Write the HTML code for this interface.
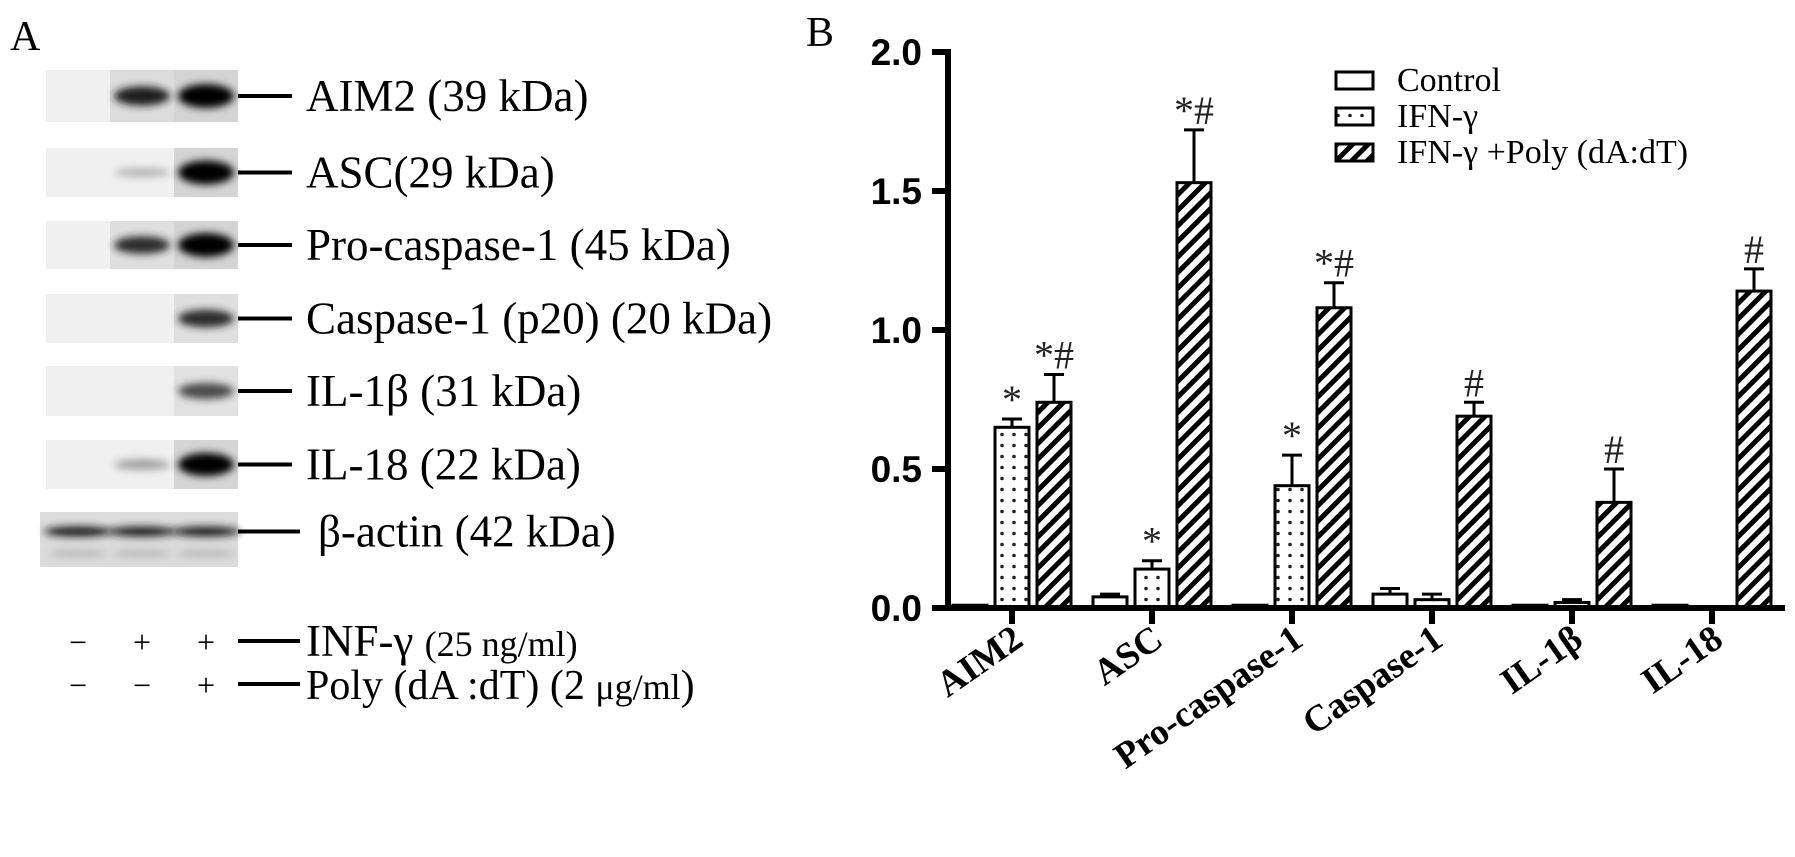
<!DOCTYPE html>
<html><head><meta charset="utf-8">
<style>
html,body{margin:0;padding:0;background:#fff;}
svg{display:block;}
.serif{font-family:"Liberation Serif","DejaVu Serif",serif;}
.sans{font-family:"Liberation Sans","DejaVu Sans",sans-serif;}
</style></head>
<body>
<svg id="fig" width="1795" height="857" viewBox="0 0 1795 857" xmlns="http://www.w3.org/2000/svg">
<defs>
  <pattern id="hatch" patternUnits="userSpaceOnUse" width="11" height="11" patternTransform="rotate(45)">
    <rect width="11" height="11" fill="#fff"/>
    <rect x="0" y="0" width="5" height="11" fill="#000"/>
  </pattern>
  <pattern id="dots" patternUnits="userSpaceOnUse" width="12" height="11">
    <rect width="12" height="11" fill="#fff"/>
    <circle cx="6" cy="5.5" r="1.8" fill="#222"/>
  </pattern>
  <filter id="blur" x="-50%" y="-100%" width="200%" height="300%"><feGaussianBlur stdDeviation="4"/></filter>
</defs>

<text class="serif" x="10" y="50" font-size="42">A</text>
<text class="serif" x="806" y="46" font-size="42">B</text>

<g id="blots"></g>
<g id="chart"></g>
</svg>

<script>
// ---------- Bar chart data ----------
const categories = ["AIM2","ASC","Pro-caspase-1","Caspase-1","IL-1β","IL-18"];
const seriesNames = ["Control","IFN-γ","IFN-γ +Poly (dA:dT)"];
const controlValues = [0.01,0.04,0.01,0.05,0.01,0.01];
const ifnValues = [0.65,0.14,0.44,0.03,0.02,0.005];
const polyValues = [0.74,1.53,1.08,0.69,0.38,1.14];
const controlErr = [0.0,0.01,0.0,0.02,0.0,0.0];
const ifnErr = [0.03,0.03,0.11,0.02,0.01,0.0];
const polyErr = [0.10,0.19,0.09,0.05,0.12,0.08];
const ifnMarks = ["*","*","*","","",""];
const polyMarks = ["*#","*#","*#","#","#","#"];
const yTicks = [0,0.5,1.0,1.5,2.0];
const yTickLabels = ["0.0","0.5","1.0","1.5","2.0"];

// ---------- Blot data ----------
const blotLabels = ["AIM2 (39 kDa)","ASC(29 kDa)","Pro-caspase-1 (45 kDa)","Caspase-1 (p20) (20 kDa)","IL-1β (31 kDa)","IL-18 (22 kDa)","β-actin (42 kDa)"];
const blotIntensity = [[0,0.7,1],[0,0.05,1],[0,0.6,1],[0,0,0.6],[0,0,0.5],[0,0.15,0.95],[0.75,0.7,0.7]];

const NS = "http://www.w3.org/2000/svg";
function mk(tag, attrs, parent){const e=document.createElementNS(NS,tag);for(const k in attrs)e.setAttribute(k,attrs[k]);parent.appendChild(e);return e;}

const Y0 = 608, PX_PER = 278;
function yScale(v){return Y0 - v*PX_PER;}
function groupX(i){return 953 + 140*i;}
function barX(i,s){return groupX(i) + 42*s;}
const BW = 34;

const chart = document.getElementById('chart');

const legendFills = ["#fff","url(#dots)","url(#hatch)"];
seriesNames.forEach((n,s)=>{
  const cy = 80 + 36*s;
  const r = mk('rect',{x:1336,y:cy-8,width:37,height:17,fill:legendFills[s],stroke:"#000","stroke-width":3},chart);
  
  
  const t = mk('text',{x:1397,y:cy+11,"font-size":34,class:"serif"},chart);
  t.textContent = n;
  
  
});

const allVals=[controlValues,ifnValues,polyValues];
const allErr=[controlErr,ifnErr,polyErr];
categories.forEach((c,i)=>{
  for(let s=0;s<3;s++){
    const v=allVals[s][i], e=allErr[s][i];
    const x=barX(i,s), yt=yScale(v);
    if(e>0){
      const ye=yScale(v+e);
      const st=mk('line',{x1:x+BW/2,x2:x+BW/2,y1:yt,y2:ye,stroke:"#000","stroke-width":3},chart);
      
      
      const cp=mk('line',{x1:x+BW/2-10,x2:x+BW/2+10,y1:ye,y2:ye,stroke:"#000","stroke-width":3},chart);
      
      
    }
    const h=Math.max(Y0-yt,1.5);
    const b=mk('rect',{x:x,y:Y0-h,width:BW,height:h,fill:legendFills[s],stroke:"#000","stroke-width":3},chart);
    
    
  }
  [[1,ifnMarks],[2,polyMarks]].forEach(([s,arr])=>{
    const m=arr[i]; if(!m) return;
    const v=allVals[s][i]+allErr[s][i];
    const t=mk('text',{x:barX(i,s)+BW/2,y:yScale(v)-6,"font-size":40,"text-anchor":"middle",class:"serif",fill:"#222"},chart);
    t.textContent=m;
    
    
  });
  const tk=mk('line',{x1:groupX(i)+59,x2:groupX(i)+59,y1:Y0,y2:Y0+16,stroke:"#000","stroke-width":6},chart);
  
  
  const tx=groupX(i)+72, ty=Y0+36;
  const lb=mk('text',{x:tx,y:ty,"font-size":37,"font-weight":"bold","text-anchor":"end",class:"serif",transform:`rotate(-35 ${tx} ${ty})`},chart);
  lb.textContent=c;
  
  
});

const ya=mk('line',{x1:948,x2:948,y1:yScale(2.0)-3,y2:Y0+3,stroke:"#000","stroke-width":6},chart);


const xa=mk('line',{x1:932,x2:1785,y1:Y0,y2:Y0,stroke:"#000","stroke-width":6},chart);


yTicks.forEach((v,k)=>{
  const y=yScale(v);
  const t=mk('line',{x1:932,x2:948,y1:y,y2:y,stroke:"#000","stroke-width":6},chart);
  
  
  const l=mk('text',{x:922,y:y+13,"font-size":37,"font-weight":"bold","text-anchor":"end",class:"sans"},chart);
  l.textContent=yTickLabels[k];
  
  
});

// ---------- Blots ----------
const blots=document.getElementById('blots');
const rowTop=[70,148,221,294,366,440,512];
const rowBot=[122,197,269,343,416,489,567];
const laneC=[78,142,206];
blotLabels.forEach((lab,r)=>{
  const t0=rowTop[r], b0=rowBot[r], cy=(t0+b0)/2;
  const isActin = r===6;
  const g=mk('g',{},blots);
  
  
  const bx = isActin?40:46;
  mk('rect',{x:bx,y:t0,width:238-bx,height:b0-t0,fill:isActin?"#dcdcdc":"#f0f0f0"},g);
  blotIntensity[r].forEach((it,l)=>{
    if(it>0.3 && !isActin) mk('rect',{x:laneC[l]-32,y:t0,width:64,height:b0-t0,fill:"#d0d0d0",opacity:Math.min(1,it*0.9)},g);
  });
  blotIntensity[r].forEach((it,l)=>{
    if(it<=0) return;
    const shade=Math.round(90*(1-it));
    const ry = isActin?5:4+it*8;
    mk('ellipse',{cx:laneC[l],cy:isActin?cy-8:cy,rx:isActin?34:28,ry:ry,fill:`rgb(${shade},${shade},${shade})`,opacity:Math.min(1,0.35+it),filter:"url(#blur)"},g);
  });
  if(isActin){
    laneC.forEach(c=>mk('ellipse',{cx:c,cy:cy+14,rx:30,ry:4,fill:"#bbb",filter:"url(#blur)"},g));
  }
  const ly = isActin?cy-8:cy;
  const ln=mk('line',{x1:238,x2:isActin?300:292,y1:ly,y2:ly,stroke:"#000","stroke-width":4},blots);
  
  
  const tx=mk('text',{x:isActin?318:306,y:ly+15,"font-size":45,class:"serif"},blots);
  tx.textContent=lab;
  
  
});
const treatSigns=[["−","+","+"],["−","−","+"]];
const treatY=[641,684];
treatSigns.forEach((row,k)=>{
  row.forEach((s,l)=>{
    const t=mk('text',{x:laneC[l],y:treatY[k]+12,"font-size":32,"text-anchor":"middle",class:"serif"},blots);
    t.textContent=s;
    
    
  });
  const ln=mk('line',{x1:238,x2:300,y1:treatY[k],y2:treatY[k],stroke:"#000","stroke-width":4},blots);
  
  
});
const t1=mk('text',{x:306,y:treatY[0]+15,"font-size":45,class:"serif"},blots);
t1.innerHTML='INF-γ <tspan font-size="36">(25 ng/ml)</tspan>';


const t2=mk('text',{x:306,y:treatY[1]+15,"font-size":42,class:"serif"},blots);
t2.innerHTML='Poly (dA :dT) (2 <tspan font-size="36">μg/ml</tspan>)';


</script>
</body></html>
